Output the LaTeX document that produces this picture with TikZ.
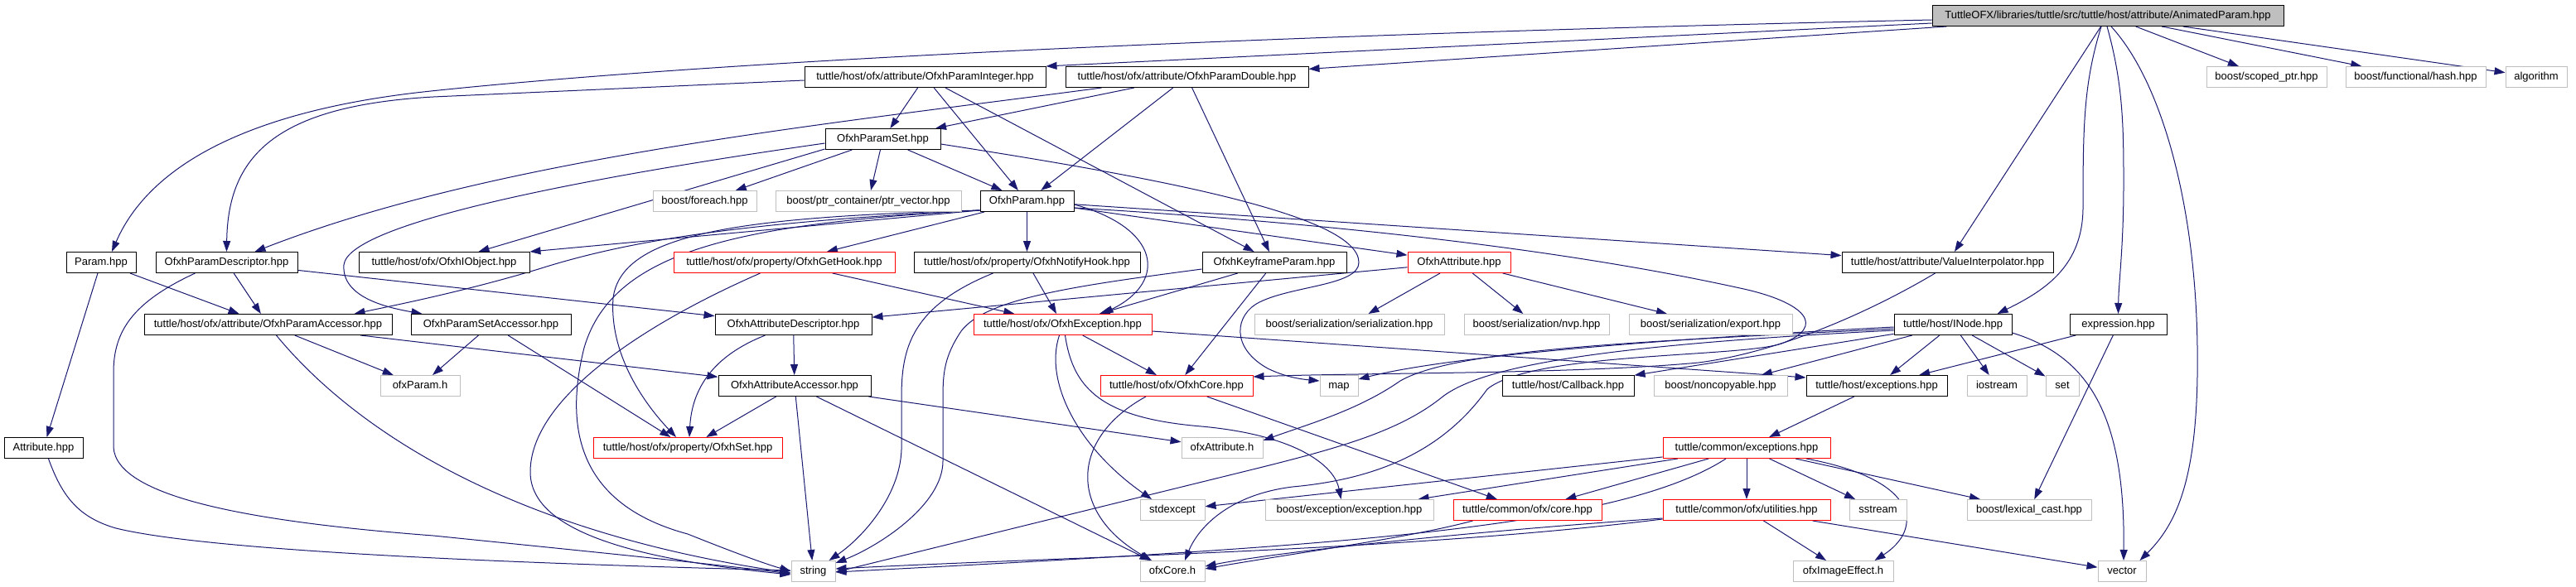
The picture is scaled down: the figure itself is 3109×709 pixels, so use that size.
\documentclass[tikz,border=0pt]{standalone}
\usepackage{fontspec}
\setmainfont{Liberation Sans}
\usetikzlibrary{arrows.meta}
\definecolor{edgec}{RGB}{25,25,112}
\definecolor{grayb}{RGB}{191,191,191}
\definecolor{redb}{RGB}{255,0,0}
\definecolor{rootfill}{RGB}{191,191,191}
\pgfdeclarelayer{bg}
\pgfsetlayers{bg,main}
\begin{document}
\begin{tikzpicture}[x=1pt,y=-1pt,
  nb/.style={draw=black, line width=1pt, fill=white, minimum height=25pt, inner sep=0pt,
    text height=9.5pt, text depth=2.5pt, font=\fontsize{13}{15}\selectfont},
  gb/.style={nb, draw=grayb},
  rb/.style={nb, draw=redb},
  edge/.style={draw=edgec, line width=1pt, -{Triangle[length=13pt,width=9pt]}}]
\useasboundingbox (0,0) rectangle (3109,709);
% row 0
\node[nb, fill=rootfill, minimum width=424pt] (root) at (2544,19) {TuttleOFX/libraries/tuttle/src/tuttle/host/attribute/AnimatedParam.hpp};
% row 1
\node[nb, minimum width=291pt] (pint) at (1116.5,93) {tuttle/host/ofx/attribute/OfxhParamInteger.hpp};
\node[nb, minimum width=293pt] (pdbl) at (1432.5,93) {tuttle/host/ofx/attribute/OfxhParamDouble.hpp};
\node[gb, minimum width=145pt] (scoped) at (2735.5,93) {boost/scoped\_ptr.hpp};
\node[gb, minimum width=169pt] (fhash) at (2915.5,93) {boost/functional/hash.hpp};
\node[gb, minimum width=74pt] (algo) at (3061,93) {algorithm};
% row 2
\node[nb, minimum width=139pt] (pset) at (1065.5,168) {OfxhParamSet.hpp};
% row 3
\node[gb, minimum width=125pt] (foreach) at (850.5,243) {boost/foreach.hpp};
\node[gb, minimum width=224pt] (ptrvec) at (1048,243) {boost/ptr\_container/ptr\_vector.hpp};
\node[nb, minimum width=113pt] (param) at (1239.5,243) {OfxhParam.hpp};
% row 4
\node[nb, minimum width=84pt] (parhpp) at (122,317) {Param.hpp};
\node[nb, minimum width=171pt] (pdesc) at (273.5,317) {OfxhParamDescriptor.hpp};
\node[nb, minimum width=206pt] (iobj) at (536,317) {tuttle/host/ofx/OfxhIObject.hpp};
\node[rb, minimum width=267pt] (gethook) at (946.5,317) {tuttle/host/ofx/property/OfxhGetHook.hpp};
\node[nb, minimum width=273pt] (notify) at (1239.5,317) {tuttle/host/ofx/property/OfxhNotifyHook.hpp};
\node[nb, minimum width=174pt] (keyf) at (1538,317) {OfxhKeyframeParam.hpp};
\node[rb, minimum width=124pt] (attr) at (1761,317) {OfxhAttribute.hpp};
\node[nb, minimum width=255pt] (valint) at (2350.5,317) {tuttle/host/attribute/ValueInterpolator.hpp};
% row 5
\node[nb, minimum width=299pt] (pacc) at (323.5,392) {tuttle/host/ofx/attribute/OfxhParamAccessor.hpp};
\node[nb, minimum width=193pt] (psacc) at (592.5,392) {OfxhParamSetAccessor.hpp};
\node[nb, minimum width=189pt] (adesc) at (957.5,392) {OfxhAttributeDescriptor.hpp};
\node[rb, minimum width=215pt] (exc) at (1282.5,392) {tuttle/host/ofx/OfxhException.hpp};
\node[gb, minimum width=229pt] (ser) at (1628.5,392) {boost/serialization/serialization.hpp};
\node[gb, minimum width=175pt] (nvp) at (1854.5,392) {boost/serialization/nvp.hpp};
\node[gb, minimum width=197pt] (export) at (2064.5,392) {boost/serialization/export.hpp};
\node[nb, minimum width=142pt] (inode) at (2357,392) {tuttle/host/INode.hpp};
\node[nb, minimum width=117pt] (expr) at (2556.5,392) {expression.hpp};
% row 6
\node[gb, minimum width=96pt] (ofxparam) at (507,466) {ofxParam.h};
\node[nb, minimum width=184pt] (aacc) at (959,466) {OfxhAttributeAccessor.hpp};
\node[rb, minimum width=184pt] (core) at (1420,466) {tuttle/host/ofx/OfxhCore.hpp};
\node[gb, minimum width=46pt] (map) at (1616,466) {map};
\node[nb, minimum width=159pt] (callback) at (1892.5,466) {tuttle/host/Callback.hpp};
\node[gb, minimum width=161pt] (noncopy) at (2076.5,466) {boost/noncopyable.hpp};
\node[nb, minimum width=170pt] (hexc) at (2265,466) {tuttle/host/exceptions.hpp};
\node[gb, minimum width=72pt] (iostream) at (2410,466) {iostream};
\node[gb, minimum width=40pt] (set) at (2489,466) {set};
% row 7
\node[nb, minimum width=95pt] (attrhpp) at (52.5,541) {Attribute.hpp};
\node[rb, minimum width=228pt] (oset) at (830,541) {tuttle/host/ofx/property/OfxhSet.hpp};
\node[gb, minimum width=98pt] (ofxattr) at (1475,541) {ofxAttribute.h};
\node[rb, minimum width=202pt] (cexc) at (2108,541) {tuttle/common/exceptions.hpp};
% row 8
\node[gb, minimum width=78pt] (stdexc) at (1415,616) {stdexcept};
\node[gb, minimum width=203pt] (bexc) at (1628.5,616) {boost/exception/exception.hpp};
\node[rb, minimum width=179pt] (ccore) at (1843.5,616) {tuttle/common/ofx/core.hpp};
\node[rb, minimum width=202pt] (util) at (2108,616) {tuttle/common/ofx/utilities.hpp};
\node[gb, minimum width=69pt] (sstream) at (2266.5,616) {sstream};
\node[gb, minimum width=150pt] (lexical) at (2449,616) {boost/lexical\_cast.hpp};
% row 9
\node[gb, minimum width=53pt] (string) at (981.5,690) {string};
\node[gb, minimum width=78pt] (ofxcore) at (1415,690) {ofxCore.h};
\node[gb, minimum width=121pt] (imgeff) at (2224.5,690) {ofxImageEffect.h};
\node[gb, minimum width=58pt] (vector) at (2561,690) {vector};

\begin{pgfonlayer}{bg}
% ---- edges from root
\draw[edge] ([yshift=-5pt]root.west) .. controls (1600,40) and (900,70) .. (520,110) .. controls (300,133) and (180,200) .. ([xshift=13pt]parhpp.north);
\draw[edge] ([yshift=-9pt]root.west) -- (pint.north east);
\draw[edge] (root) -- (pdbl);
\draw[edge] (root) -- (valint);
\draw[edge] ([xshift=-8pt]root.south) .. controls (2515,100) and (2514,150) .. (2514,250) .. controls (2514,320) and (2470,350) .. ([xshift=-18pt]inode.north east);
\draw[edge] ([xshift=-1pt]root.south) .. controls (2562,100) and (2563,150) .. (2563,220) .. controls (2563,300) and (2557,340) .. (expr.north);
\draw[edge] ([xshift=4pt]root.south) .. controls (2610,100) and (2650,250) .. (2652,420) .. controls (2654,570) and (2630,630) .. ([xshift=-8pt]vector.north east);
\draw[edge] (root) -- (scoped);
\draw[edge] (root) -- (fhash);
\draw[edge] (root) -- (algo);
% ---- OfxhParamInteger / Double
\draw[edge] ([yshift=-4pt]pint.west) -- (523,117) .. controls (330,128) and (275,190) .. (pdesc.north);
\draw[edge] (pint) -- (pset);
\draw[edge] (pint) -- (param);
\draw[edge] (pint) -- (keyf);
\draw[edge] ([xshift=44pt]pdbl.south west) .. controls (1000,150) and (600,190) .. ([xshift=34pt]pdesc.north);
\draw[edge] (pdbl) -- (pset);
\draw[edge] (pdbl) -- (param);
\draw[edge] (pdbl) -- (keyf);
% ---- OfxhParamSet
\draw[edge] ([yshift=-5pt]pset.west) .. controls (700,215) and (420,270) .. (415,320) .. controls (412,360) and (470,372) .. ([xshift=14pt]psacc.north west);
\draw[edge] ([yshift=1pt]pset.south west) -- ([xshift=-62pt]iobj.north east);
\draw[edge] (pset) -- (foreach);
\draw[edge] (pset) -- (ptrvec);
\draw[edge] (pset) -- (param);
\draw[edge] ([yshift=-6pt]pset.east) .. controls (1400,215) and (1640,260) .. (1640,317) .. controls (1640,345) and (1560,345) .. (1520,365) .. controls (1490,380) and (1485,420) .. (1530,445) .. controls (1550,455) and (1570,458) .. ([yshift=6pt]map.west);
% ---- OfxhParam
\draw[edge] ([yshift=2pt]param.south west) -- (iobj.north east);
\draw[edge] (param) -- (gethook);
\draw[edge] ([yshift=2pt]param.south west) .. controls (900,268) and (760,290) .. (650,325) .. controls (560,352) and (480,368) .. ([xshift=-46pt]pacc.north east);
\draw[edge] ([yshift=2pt]param.south west) .. controls (900,262) and (750,280) .. (740,360) .. controls (735,430) and (780,490) .. ([xshift=-14pt]oset.north);
\draw[edge] ([yshift=2pt]param.south west) .. controls (900,270) and (740,300) .. (705,420) .. controls (680,520) and (700,610) .. (830,645) .. controls (880,665) and (920,680) .. (string.west);
\draw[edge] (param) -- (notify);
\draw[edge] ([yshift=-4pt]param.east) .. controls (1400,275) and (1410,340) .. ([xshift=-60pt]exc.north east);
\draw[edge] (param) -- (attr);
\draw[edge] (param) -- (valint);
\draw[edge] ([yshift=-8pt]param.east) .. controls (1700,275) and (1950,315) .. (2100,348) .. controls (2180,365) and (2205,395) .. (2150,415) .. controls (2100,432) and (1850,425) .. (1795,470) .. controls (1745,540) and (1670,578) .. (1560,588) .. controls (1480,598) and (1445,640) .. ([xshift=15pt]ofxcore.north);
% ---- Param.hpp, descriptor, Attribute.hpp
\draw[edge] (parhpp) -- (pacc);
\draw[edge] (parhpp) -- (attrhpp);
\draw[edge] (pdesc) -- (pacc);
\draw[edge] (pdesc) -- (adesc);
\draw[edge] ([xshift=-38pt]pdesc.south) .. controls (160,365) and (137,400) .. (137,450) -- (137,540) .. controls (140,600) and (300,630) .. (523,647) .. controls (700,665) and (850,680) .. ([yshift=-3pt]string.west);
\draw[edge] ([xshift=6pt]attrhpp.south) .. controls (75,600) and (95,625) .. (140,638) .. controls (250,665) and (600,680) .. ([yshift=1pt]string.west);
% ---- accessors
\draw[edge] (pacc) -- (ofxparam);
\draw[edge] ([xshift=10pt]pacc.south) .. controls (420,510) and (600,640) .. ([yshift=-2pt]string.west);
\draw[edge] (pacc) -- (aacc);
\draw[edge] (psacc) -- (ofxparam);
\draw[edge] (psacc) -- (oset);
\draw[edge] (adesc) -- (aacc);
\draw[edge] ([xshift=-34pt]adesc.south) .. controls (860,430) and (835,470) .. ([xshift=2pt]oset.north);
\draw[edge] (aacc) -- (oset);
\draw[edge] (aacc) -- (string);
\draw[edge] (aacc) -- (ofxcore);
\draw[edge] (aacc) -- (ofxattr);
% ---- hooks
\draw[edge] ([xshift=-29pt]gethook.south) .. controls (780,390) and (640,480) .. (640,570) .. controls (640,640) and (760,675) .. ([yshift=-4pt]string.west);
\draw[edge] (gethook) -- (exc);
\draw[edge] (notify) -- (exc);
\draw[edge] ([xshift=-41pt]notify.south) .. controls (1100,370) and (1088,420) .. (1088,480) -- (1088,543) .. controls (1086,600) and (1040,650) .. ([xshift=-8pt]string.north east);
% ---- keyframe
\draw[edge] (keyf) -- (exc);
\draw[edge] (keyf) -- (core);
\draw[edge] ([yshift=-8pt]keyf.west) .. controls (1300,345) and (1190,360) .. (1160,400) .. controls (1140,430) and (1138,450) .. (1138,480) -- (1138,557) .. controls (1138,610) and (1060,660) .. ([yshift=-3pt]string.north east);
% ---- attribute
\draw[edge] (attr) -- (adesc);
\draw[edge] (attr) -- (ser);
\draw[edge] (attr) -- (nvp);
\draw[edge] (attr) -- (export);
% ---- exception / core
\draw[edge] (exc) -- (core);
\draw[edge] ([xshift=-4pt]exc.south) .. controls (1260,460) and (1300,540) .. ([xshift=-25pt]stdexc.north);
\draw[edge] ([xshift=3pt]exc.south) .. controls (1295,470) and (1330,505) .. (1450,515) .. controls (1560,525) and (1610,560) .. ([xshift=-10pt]bexc.north);
\draw[edge] ([yshift=-8pt]exc.east) -- ([yshift=10pt]hexc.west);
\draw[edge] ([xshift=-37pt]core.south) .. controls (1290,530) and (1290,620) .. ([xshift=-25pt]ofxcore.north);
\draw[edge] (core) -- (ccore);
% ---- ValueInterpolator
\draw[edge] ([xshift=-15pt]valint.south) .. controls (2260,375) and (2150,425) .. (2050,438) .. controls (1900,452) and (1650,450) .. ([yshift=11pt]core.east);
% ---- INode
\draw[edge] (inode) -- (callback);
\draw[edge] (inode) -- (noncopy);
\draw[edge] (inode) -- (hexc);
\draw[edge] (inode) -- (iostream);
\draw[edge] (inode) -- (set);
\draw[edge] ([yshift=-10pt]inode.east) .. controls (2520,430) and (2565,500) .. ([xshift=2pt]vector.north);
\draw[edge] ([yshift=-3pt]inode.west) .. controls (2000,410) and (1750,430) .. ([yshift=8pt]map.east);
\draw[edge] ([yshift=-5pt]inode.west) .. controls (2000,412) and (1760,420) .. (1690,460) .. controls (1640,495) and (1580,512) .. ([yshift=-4pt]ofxattr.north east);
\draw[edge] ([yshift=-7pt]inode.west) .. controls (1950,416) and (1790,440) .. (1740,480) .. controls (1690,520) and (1620,540) .. (1520,565) -- ([yshift=-1pt]string.east);
% ---- expression
\draw[edge] (expr) -- (hexc);
\draw[edge] (expr) -- (lexical);
% ---- exceptions chain
\draw[edge] (hexc) -- (cexc);
\draw[edge] (cexc) -- (util);
\draw[edge] (cexc) -- (sstream);
\draw[edge] (cexc) -- (lexical);
\draw[edge] ([xshift=72pt]cexc.south) .. controls (2320,580) and (2320,640) .. ([xshift=38pt]imgeff.north);
\draw[edge] (cexc) -- (ccore);
\draw[edge] (cexc) -- (bexc);
\draw[edge] (cexc) -- (stdexc);
\draw[edge] ([xshift=-25pt]cexc.south) .. controls (1950,640) and (1600,660) .. ([yshift=-1pt]string.east);
\draw[edge] (util) -- (imgeff);
\draw[edge] (util) -- (vector);
\draw[edge] ([yshift=-10pt]util.west) .. controls (1800,640) and (1550,665) .. ([yshift=6pt]ofxcore.east);
\draw[edge] ([yshift=-11pt]util.west) .. controls (1700,665) and (1300,672) .. ([yshift=3pt]string.east);
\draw[edge] ([xshift=-66pt]ccore.south) .. controls (1700,650) and (1550,670) .. ([yshift=3pt]ofxcore.east);
\end{pgfonlayer}
\end{tikzpicture}
\end{document}
